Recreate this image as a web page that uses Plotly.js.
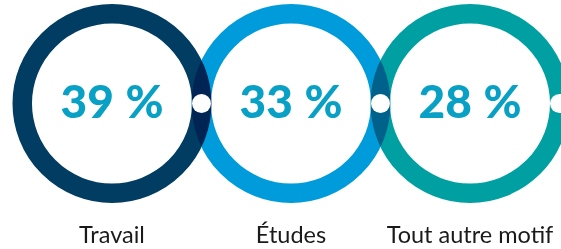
<!DOCTYPE html>
<html>
<head>
<meta charset="utf-8">
<script src="https://cdn.plot.ly/plotly-3.0.1.min.js"></script>
<style>
  html, body { margin: 0; padding: 0; background: #fff; overflow: hidden; }
  #chart { width: 561px; height: 249px; }
  .js-plotly-plot .scatterlayer .trace:first-child path.point { mix-blend-mode: multiply; }
</style>
</head>
<body>
<div id="chart"></div>
<script>
// ---- data ----
const categories = ['Travail', 'Études', 'Tout autre motif'];
const shares = [39, 33, 28];
const ringColors = ['#013d62', '#009bdb', '#00a0a2'];
const pctLabels = shares.map(v => v + '\u202F%');

// ---- build ----
const idx = categories.map((_, i) => i);
const zeros = categories.map(() => 0);

const rings = {
  type: 'scatter', mode: 'markers',
  x: idx, y: zeros,
  marker: { symbol: 'circle-open', size: 179.5, color: ringColors, line: { width: 19.5 } },
  hoverinfo: 'skip', showlegend: false
};
const dots = {
  type: 'scatter', mode: 'markers',
  x: idx.map(i => i + 0.5), y: zeros,
  marker: { symbol: 'circle', size: 19, color: '#ffffff', line: { width: 0 } },
  hoverinfo: 'skip', showlegend: false
};
const pct = {
  type: 'scatter', mode: 'text',
  x: idx, y: zeros.map(v => v - 2.5),
  text: pctLabels, textposition: 'middle center',
  textfont: { family: 'Lato, sans-serif', size: 46, weight: 900, color: '#08a0c4' },
  hoverinfo: 'skip', showlegend: false, cliponaxis: false
};
const labels = {
  type: 'scatter', mode: 'text',
  x: idx, y: zeros.map(v => v - 133.5),
  text: categories, textposition: 'middle center',
  textfont: { family: 'Lato, sans-serif', size: 23.5, color: '#1a1a1a' },
  hoverinfo: 'skip', showlegend: false, cliponaxis: false
};

const layout = {
  width: 561, height: 249,
  margin: { l: 0, r: 0, t: 0, b: 0 },
  paper_bgcolor: '#ffffff', plot_bgcolor: '#ffffff',
  xaxis: { range: [-112 / 179, (561 - 112) / 179], visible: false, fixedrange: true },
  yaxis: { range: [-145.5, 103.5], visible: false, fixedrange: true },
  showlegend: false
};

Plotly.newPlot('chart', [rings, dots, pct, labels], layout, { staticPlot: true, displayModeBar: false });
</script>
</body>
</html>
